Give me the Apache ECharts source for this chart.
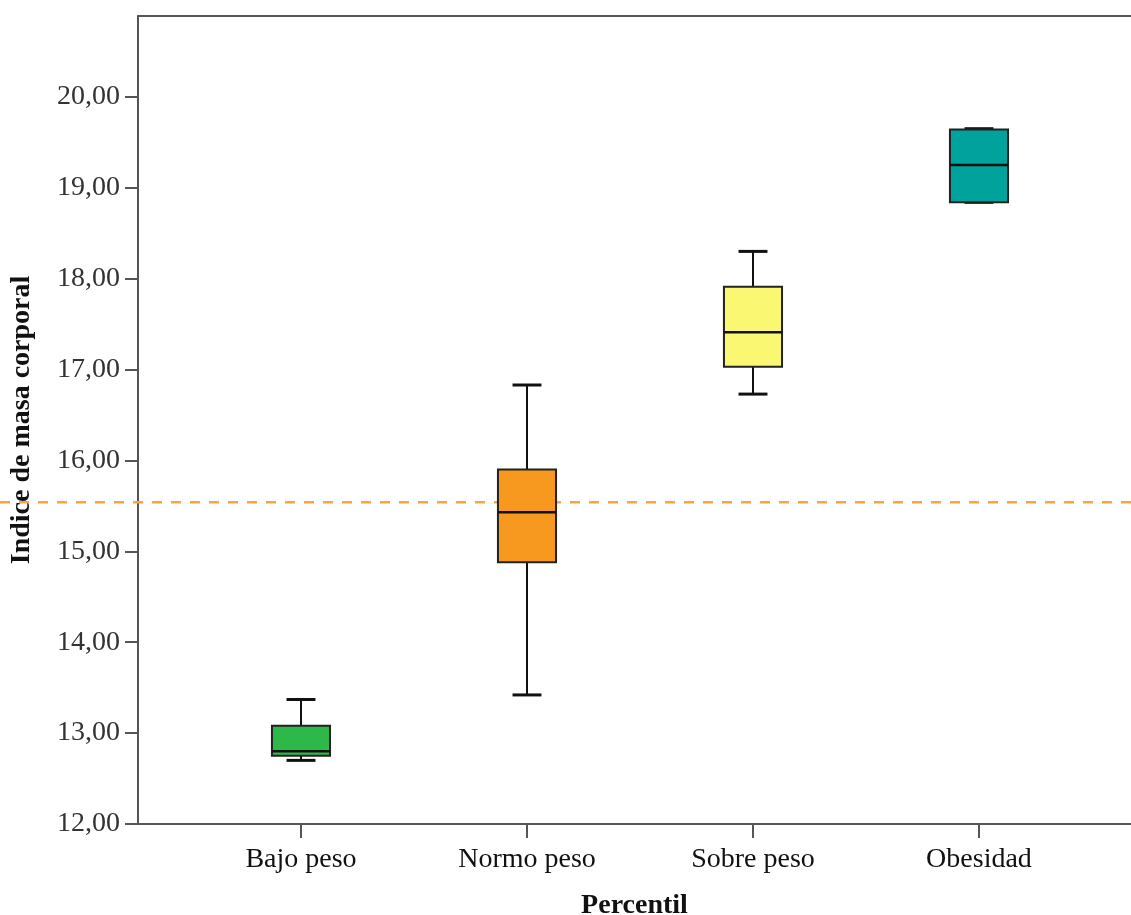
<!DOCTYPE html>
<html>
<head>
<meta charset="utf-8">
<script src="https://cdn.jsdelivr.net/npm/echarts@6/dist/echarts.min.js"></script>
<style>
  html, body { margin: 0; padding: 0; background: #fff; }
  #grafica { width: 1131px; height: 915px; }
</style>
</head>
<body>
<div id="grafica"></div>
<script>
// Categorías del eje x
const categorias = ['Bajo peso', 'Normo peso', 'Sobre peso', 'Obesidad'];
// Posición de cada categoría en el eje x
const posiciones = [1, 2, 3, 4];
// Valores de cada caja: [mínimo, Q1, mediana, Q3, máximo]
const minimos = [12.70, 13.42, 16.73, 18.84];
const cuartil1 = [12.75, 14.88, 17.03, 18.84];
const medianas = [12.80, 15.43, 17.41, 19.25];
const cuartil3 = [13.08, 15.90, 17.91, 19.64];
const maximos = [13.37, 16.83, 18.30, 19.65];
// Colores de relleno de cada caja
const coloresCaja = ['#2eb84a', '#f8991f', '#faf872', '#00a39b'];
// Marcas del eje y
const marcasY = [12, 13, 14, 15, 16, 17, 18, 19, 20];
// Línea de referencia (punteada)
const valorReferencia = 15.54;

const fuente = '"Liberation Serif", "Times New Roman", serif';
const anchoCaja = 0.257;   // en unidades del eje x
const anchoBigote = 0.128;

const datos = posiciones.map((p, i) => [p, minimos[i], cuartil1[i], medianas[i], cuartil3[i], maximos[i]]);

const miGrafica = echarts.init(document.getElementById('grafica'));

const option = {
    animation: false,
    grid: { left: 138, right: 0, top: 16, bottom: 91, outerBoundsMode: 'none' },
    xAxis: [
        {
            type: 'value',
            min: 0.2788,
            max: 4.6726,
            name: 'Percentil',
            nameLocation: 'middle',
            nameGap: 68,
            nameTextStyle: { fontFamily: fuente, fontSize: 28, fontWeight: 'bold', color: '#111', verticalAlign: 'top' },
            axisLine: { show: true, onZero: false, lineStyle: { color: '#555', width: 2 } },
            axisTick: { show: true, length: 14, customValues: posiciones, lineStyle: { color: '#555', width: 2 } },
            axisLabel: {
                customValues: posiciones,
                margin: 22,
                fontFamily: fuente,
                fontSize: 28,
                color: '#111',
                formatter: v => categorias[posiciones.indexOf(v)] || ''
            },
            splitLine: { show: false }
        },
        {
            // Línea superior del marco
            type: 'value',
            position: 'top',
            min: 0.2788,
            max: 4.6726,
            axisLine: { show: true, onZero: false, lineStyle: { color: '#555', width: 2 } },
            axisTick: { show: false },
            axisLabel: { show: false },
            splitLine: { show: false }
        }
    ],
    yAxis: {
        type: 'value',
        min: 12,
        max: 20.89,
        name: 'Indice de masa corporal',
        nameLocation: 'middle',
        nameRotate: 90,
        nameGap: 102,
        nameTextStyle: { fontFamily: fuente, fontSize: 28, fontWeight: 'bold', color: '#111' },
        axisLine: { show: true, onZero: false, lineStyle: { color: '#555', width: 2 } },
        axisTick: { show: true, length: 13, customValues: marcasY, lineStyle: { color: '#555', width: 2 } },
        axisLabel: {
            customValues: marcasY,
            margin: 18,
            fontFamily: fuente,
            fontSize: 28,
            color: '#333',
            formatter: v => v.toFixed(2).replace('.', ',')
        },
        splitLine: { show: false }
    },
    series: [
        {
            type: 'custom',
            xAxisIndex: 0,
            yAxisIndex: 0,
            z: 3,
            data: datos,
            encode: { x: 0, y: [1, 2, 3, 4, 5] },
            renderItem: function (params, api) {
                const x = api.value(0);
                const pMin = api.coord([x, api.value(1)]);
                const pQ1 = api.coord([x, api.value(2)]);
                const pMed = api.coord([x, api.value(3)]);
                const pQ3 = api.coord([x, api.value(4)]);
                const pMax = api.coord([x, api.value(5)]);
                const mitad = api.size([anchoCaja, 0])[0] / 2;
                const mitadB = api.size([anchoBigote, 0])[0] / 2;
                const cx = pMed[0];
                const linea = { stroke: '#111', lineWidth: 2 };
                return {
                    type: 'group',
                    children: [
                        { type: 'line', shape: { x1: cx, y1: pMax[1], x2: cx, y2: pQ3[1] }, style: linea },
                        { type: 'line', shape: { x1: cx, y1: pQ1[1], x2: cx, y2: pMin[1] }, style: linea },
                        { type: 'line', shape: { x1: cx - mitadB, y1: pMax[1], x2: cx + mitadB, y2: pMax[1] }, style: { stroke: '#111', lineWidth: 3 } },
                        { type: 'line', shape: { x1: cx - mitadB, y1: pMin[1], x2: cx + mitadB, y2: pMin[1] }, style: { stroke: '#111', lineWidth: 3 } },
                        {
                            type: 'rect',
                            shape: { x: cx - mitad, y: pQ3[1], width: mitad * 2, height: pQ1[1] - pQ3[1] },
                            style: { fill: coloresCaja[params.dataIndex], stroke: '#222', lineWidth: 2 }
                        },
                        { type: 'line', shape: { x1: cx - mitad, y1: pMed[1], x2: cx + mitad, y2: pMed[1] }, style: { stroke: '#111', lineWidth: 2.5 } }
                    ]
                };
            }
        }
    ]
};

miGrafica.setOption(option);

// Línea de referencia punteada, atraviesa todo el ancho del gráfico
const yRef = miGrafica.convertToPixel({ yAxisIndex: 0 }, valorReferencia);
miGrafica.setOption({
    graphic: [{
        type: 'line',
        z: 1,
        shape: { x1: 0, y1: yRef, x2: miGrafica.getWidth(), y2: yRef },
        style: { stroke: '#f7a443', lineWidth: 2.5, lineDash: [10, 9] }
    }]
});
</script>
</body>
</html>
